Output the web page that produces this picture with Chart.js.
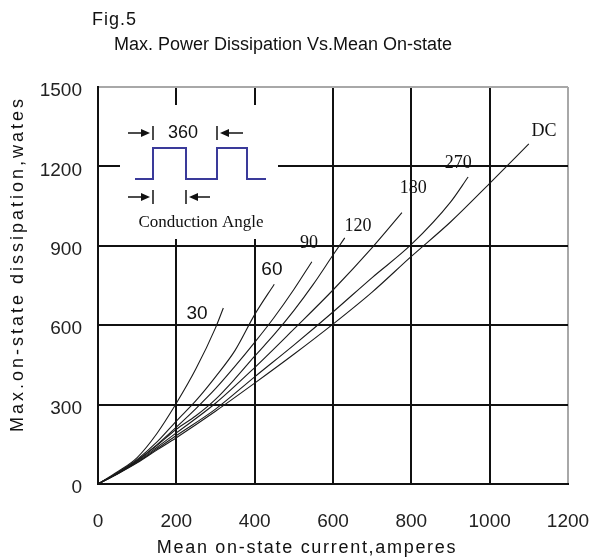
<!DOCTYPE html>
<html>
<head>
<meta charset="utf-8">
<script src="https://cdn.jsdelivr.net/npm/chart.js@4.4.0/dist/chart.umd.min.js"></script>
<style>
html, body { margin: 0; padding: 0; background: #fff; }
</style>
</head>
<body>
<canvas id="myChart" width="590" height="559"></canvas>
<script>
const xTicks = [0, 200, 400, 600, 800, 1000, 1200]
const yTicks = [0, 300, 600, 900, 1200, 1500]

// conduction angle curves
const curveNames = ['30', '60', '90', '120', '180', '270', 'DC']
const curveX = [
    [0, 50, 100, 150, 200, 250, 300, 320],
    [0, 50, 100, 150, 200, 250, 300, 350, 400, 450],
    [0, 50, 100, 150, 200, 250, 300, 350, 400, 450, 500, 546],
    [0, 50, 100, 150, 200, 250, 300, 350, 400, 450, 500, 550, 600, 630],
    [0, 50, 100, 150, 200, 300, 400, 500, 600, 700, 776],
    [0, 50, 100, 150, 200, 300, 400, 500, 600, 700, 800, 900, 945],
    [0, 50, 100, 150, 200, 300, 400, 500, 600, 700, 800, 900, 1000, 1100]
]
const curveY = [
    [0, 46, 100, 190, 305, 435, 590, 665],
    [0, 43, 93, 158, 238, 315, 405, 505, 640, 755],
    [0, 42, 90, 148, 215, 285, 360, 445, 535, 630, 735, 840],
    [0, 41, 88, 145, 207, 258, 320, 398, 483, 565, 655, 755, 865, 930],
    [0, 40, 85, 138, 193, 305, 440, 585, 733, 893, 1025],
    [0, 39, 82, 132, 183, 283, 405, 525, 650, 780, 905, 1065, 1160],
    [0, 38, 80, 128, 175, 275, 381, 490, 604, 725, 860, 990, 1136, 1285]
]
// where each curve's name sits
const labelX = [253, 444, 539, 664, 805, 920, 1139]
const labelY = [642, 808, 910, 975, 1118, 1213, 1334]

const datasets = curveNames.map((name, i) => ({
    label: name,
    data: curveX[i].map((x, j) => ({ x: x, y: curveY[i][j] })),
    borderColor: '#1a1a1a',
    borderWidth: 1.1,
    pointRadius: 0,
    fill: false,
    cubicInterpolationMode: 'monotone'
}))

function arrow(ctx, x1, x2, y) {
    // line from x1 to x2 with a filled head at x2
    const dir = x2 > x1 ? 1 : -1
    ctx.beginPath()
    ctx.moveTo(x1, y)
    ctx.lineTo(x2 - dir * 6, y)
    ctx.stroke()
    ctx.beginPath()
    ctx.moveTo(x2, y)
    ctx.lineTo(x2 - dir * 9, y - 4)
    ctx.lineTo(x2 - dir * 9, y + 4)
    ctx.closePath()
    ctx.fill()
}

function bar(ctx, x, y) {
    ctx.beginPath()
    ctx.moveTo(x, y - 7)
    ctx.lineTo(x, y + 7)
    ctx.stroke()
}

const decor = {
    id: 'decor',
    afterDatasetsDraw(chart) {
        const ctx = chart.ctx
        const xs = chart.scales.x
        const ys = chart.scales.y
        const L = chart.chartArea.left
        const T = chart.chartArea.top
        ctx.save()

        // curve names
        ctx.fillStyle = '#111'
        ctx.textAlign = 'center'
        ctx.textBaseline = 'middle'
        curveNames.forEach((name, i) => {
            ctx.font = i < 2 ? '19px "Liberation Sans", Arial' : '18px "Liberation Serif", serif'
            ctx.fillText(name, xs.getPixelForValue(labelX[i]), ys.getPixelForValue(labelY[i]))
        })

        // inset: conduction angle sketch
        ctx.fillStyle = '#fff'
        ctx.fillRect(L + 22, T + 18, 158, 134)
        ctx.strokeStyle = '#3a3a9a'
        ctx.lineWidth = 2
        ctx.beginPath()
        const wave = [[37, 92], [55, 92], [55, 61], [88, 61], [88, 92], [119, 92], [119, 61], [149, 61], [149, 92], [168, 92]]
        wave.forEach((p, k) => k ? ctx.lineTo(L + p[0], T + p[1]) : ctx.moveTo(L + p[0], T + p[1]))
        ctx.stroke()

        ctx.strokeStyle = '#111'
        ctx.fillStyle = '#111'
        ctx.lineWidth = 1.5
        arrow(ctx, L + 30, L + 52, T + 46)
        bar(ctx, L + 55, T + 46)
        bar(ctx, L + 119, T + 46)
        arrow(ctx, L + 145, L + 122, T + 46)
        arrow(ctx, L + 30, L + 52, T + 110)
        bar(ctx, L + 55, T + 110)
        bar(ctx, L + 88, T + 110)
        arrow(ctx, L + 112, L + 91, T + 110)

        ctx.font = '18px "Liberation Sans", Arial'
        ctx.fillText('360', L + 85, T + 46)
        ctx.font = '17px "Liberation Serif", serif'
        ctx.fillText('Conduction Angle', L + 103, T + 136)
        ctx.restore()
    },
    afterDraw(chart) {
        const ctx = chart.ctx
        ctx.save()
        ctx.fillStyle = '#111'
        ctx.textBaseline = 'middle'
        ctx.textAlign = 'left'
        ctx.font = '18px "Liberation Sans", Arial'
        ctx.letterSpacing = '1px'
        ctx.fillText('Fig.5', 92, 20)
        ctx.textAlign = 'center'
        ctx.font = '18px "Liberation Sans", Arial'
        ctx.letterSpacing = '0px'
        ctx.fillText('Max. Power Dissipation Vs.Mean On-state', 283, 45)
        ctx.letterSpacing = '1.7px'
        ctx.fillText('Mean on-state current,amperes', 307, 548)
        ctx.translate(18, 264)
        ctx.rotate(-Math.PI / 2)
        ctx.letterSpacing = '3px'
        ctx.fillText('Max.on-state dissipation,wates', 0, 0)
        ctx.restore()
    }
}

const tickFont = { family: '"Liberation Sans", Arial', size: 19 }

document.addEventListener("DOMContentLoaded", function () {
    var ctx = document.getElementById('myChart').getContext('2d');
    var myChart = new Chart(ctx, {
        type: 'line',
        data: { datasets: datasets },
        options: {
            responsive: false,
            animation: false,
            devicePixelRatio: 1,
            layout: { padding: { top: 87, right: 0, left: 0, bottom: 0 } },
            scales: {
                x: {
                    type: 'linear',
                    min: 0,
                    max: 1200,
                    afterBuildTicks: s => { s.ticks = xTicks.map(v => ({ value: v })) },
                    afterFit: s => { s.height = 75; s.paddingLeft = 0; s.paddingRight = 22 },
                    grid: {
                        color: c => c.tick && c.tick.value === 1200 ? '#a8a8a8' : '#111',
                        lineWidth: 2,
                        drawTicks: false
                    },
                    border: { color: '#111', width: 2 },
                    ticks: {
                        color: '#222',
                        padding: 26,
                        maxRotation: 0,
                        font: tickFont,
                        callback: v => String(v)
                    }
                },
                y: {
                    min: 0,
                    max: 1500,
                    afterBuildTicks: s => { s.ticks = yTicks.map(v => ({ value: v })) },
                    afterFit: s => { s.width = 98 },
                    grid: {
                        color: c => c.tick && c.tick.value === 1500 ? '#a8a8a8' : '#111',
                        lineWidth: 2,
                        drawTicks: false
                    },
                    border: { color: '#111', width: 2 },
                    ticks: {
                        color: '#222',
                        padding: 16,
                        labelOffset: 4,
                        font: tickFont,
                        callback: v => String(v)
                    }
                }
            },
            plugins: {
                legend: { display: false },
                tooltip: { enabled: false }
            }
        },
        plugins: [decor]
    });
});
</script>
</body>
</html>
